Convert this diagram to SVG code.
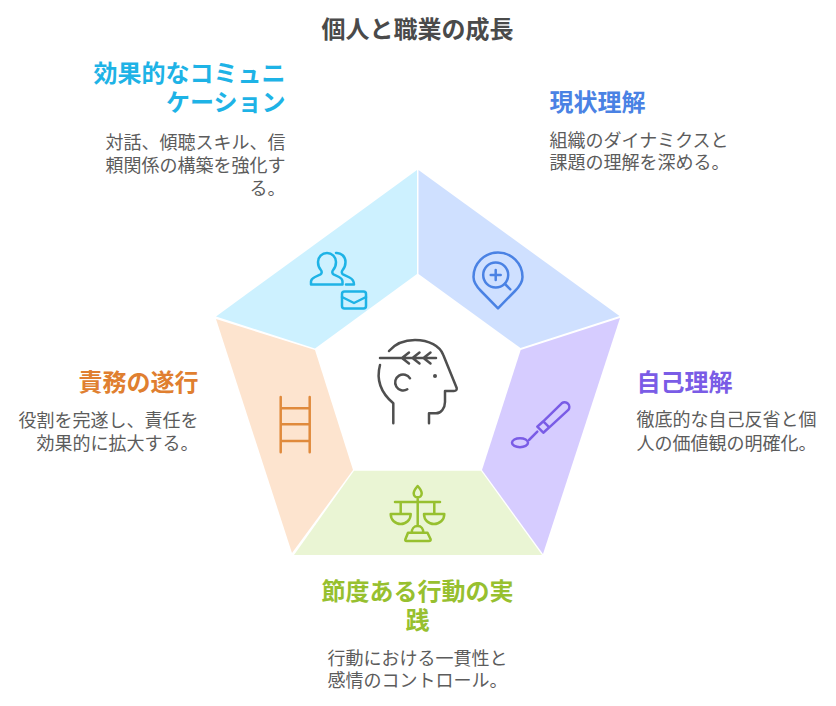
<svg xmlns="http://www.w3.org/2000/svg" width="836" height="706" viewBox="0 0 836 706">
<style>
text{font-family:"Noto Sans CJK JP","Noto Sans",sans-serif}
.t{font-size:24px;font-weight:700}
.b{font-size:18px;fill:#5c5c5c}
.e{text-anchor:end}
.m{text-anchor:middle}
.i{fill:none;stroke-width:2.500;stroke-linecap:round;stroke-linejoin:round}
</style>
<rect width="836" height="706" fill="#fff"/>
<text class="t m" x="417.500" y="38" fill="#4a4a4a">個人と職業の成長</text>
<g id="node-communication">
<polygon points="417,170 417,274 315,348.500 216,316.500" fill="#cdf1ff"/>
<g class="i" stroke="#1eb3e6">
<path d="M311,284.500H342.500V281.500C342.500,279.500 341,278 339,277L333.500,274.300C332,273.500 332,271.500 333,270.300C335,268 336,265 336,262C336,257 332,253 327,253S318,257 318,262C318,265 319,268 321,270.300C322,271.500 322,273.500 320.500,274.300L315,277C313,278 311,279.500 311,281.500Z"/>
<path d="M336,253C341,252.500 345.500,256.500 345.500,262C345.500,265 344.500,268 342.500,270.300C341.500,271.500 341.500,273.500 343,274.300L349.500,277.500C352.500,279 354,281 354,284.500H346"/>
<rect x="342" y="291.500" width="24" height="17" rx="2.500"/>
<path d="M342,297L354,303L366,297"/>
</g>
<text class="t e" x="285.500" y="82" fill="#1eb3e6">効果的なコミュニ</text>
<text class="t e" x="285.500" y="110.500" fill="#1eb3e6">ケーション</text>
<text class="b e" x="285.500" y="149">対話、傾聴スキル、信</text>
<text class="b e" x="285.500" y="172">頼関係の構築を強化す</text>
<text class="b e" x="285.500" y="195">る。</text>
</g>
<g id="node-understanding">
<polygon points="418.500,170 418.500,274 520.500,348 619.500,316" fill="#cfe0ff"/>
<g class="i" stroke="#4a82e4">
<path d="M498,308.300L481,291C476,286 473.500,282 473.500,277A24.500,24.500 0 0 1 522.500,277C522.500,282 520,286 515,291Z"/>
<circle cx="495.700" cy="275" r="12.500"/>
<path d="M495.700,270V280M490.700,275H500.700M505,284L510.300,289.300"/>
</g>
<text class="t" x="549.500" y="110.500" fill="#4a82e4">現状理解</text>
<text class="b" x="549.500" y="146.500">組織のダイナミクスと</text>
<text class="b" x="549.500" y="169">課題の理解を深める。</text>
</g>
<g id="node-self">
<polygon points="520.700,350 620,318 543,554 482,470" fill="#d6ccff"/>
<g class="i" stroke="#7a5ce6">
<ellipse cx="520" cy="442.700" rx="8" ry="4.500"/>
<path d="M529,440L537.300,431.700M537.300,426.700L543.300,432.700L549.300,427.300L543.300,421.300ZM543.300,421.300L561.700,403.300A4.700,4.700 0 0 1 568.300,409.900L549.300,427.300"/>
</g>
<text class="t" x="636.500" y="390.500" fill="#7a5ce6">自己理解</text>
<text class="b" x="636.500" y="426">徹底的な自己反省と個</text>
<text class="b" x="636.500" y="450">人の価値観の明確化。</text>
</g>
<g id="node-practice">
<polygon points="354,470.700 481,470.700 542,555 294,555" fill="#eaf5d4"/>
<g class="i" stroke="#97c02f">
<path d="M417.700,486C415,489 413.700,491 413.700,493.500C413.700,495.700 415.500,497.300 417.700,497.300S421.700,495.700 421.700,493.500C421.700,491 420.400,489 417.700,486ZM417.700,497.300V526M395,502H440M400.700,502V514M434.300,502V514M390.700,514H410.700C410.700,520 406,524 400.700,524S390.700,520 390.700,514ZM424,514H444.300C444.300,520 439.500,524 434,524S424,520 424,514ZM411.700,532.700C411.700,529 414,526 417.700,526S423.300,529 423.300,532.700M408,532.700H427.500L430.500,539C431,540.500 430,541 429,541H406.500C405.500,541 405,540.500 405.500,539Z"/>
</g>
<text class="t m" x="417.500" y="599.500" fill="#97c02f">節度ある行動の実</text>
<text class="t m" x="417.500" y="628.500" fill="#97c02f">践</text>
<text class="b m" x="417.500" y="665">行動における一貫性と</text>
<text class="b m" x="417.500" y="687">感情のコントロール。</text>
</g>
<g id="node-duty">
<polygon points="216,319 315,350 353,470 292,553" fill="#fde4cf"/>
<g class="i" stroke="#e08a3c">
<path d="M280.700,397V452.300M309.700,397V452.300M280.700,408.300H309.700M280.700,424.300H309.700M280.700,441H309.700"/>
</g>
<text class="t e" x="198.500" y="390.500" fill="#e07f30">責務の遂行</text>
<text class="b e" x="198.500" y="427">役割を完遂し、責任を</text>
<text class="b e" x="198.500" y="450">効果的に拡大する。</text>
</g>
<g id="node-center">
<g class="i" stroke="#4f4f4f">
<path d="M380,358H436M409,352.500L402,358L409,363.500M419.500,352.500L412.500,358L419.500,363.500M430.500,352.500L423.500,358L430.500,363.500"/>
<path d="M389,351C395,344 405,340 415,340C429,340 440,346 443.300,355L456.700,388C457,390 456,391 454,391H445V402C445,408 441,413.300 436,413.300H429V423.300"/>
<path d="M380,365C376,380 380,392 393.300,403.300V423.300"/>
<path d="M410,378.300A8,8 0 1 0 407.300,389.300"/>
</g>
<circle cx="435" cy="376" r="2" fill="#4f4f4f"/>
</g>
<g id="connectors"/>
</svg>
